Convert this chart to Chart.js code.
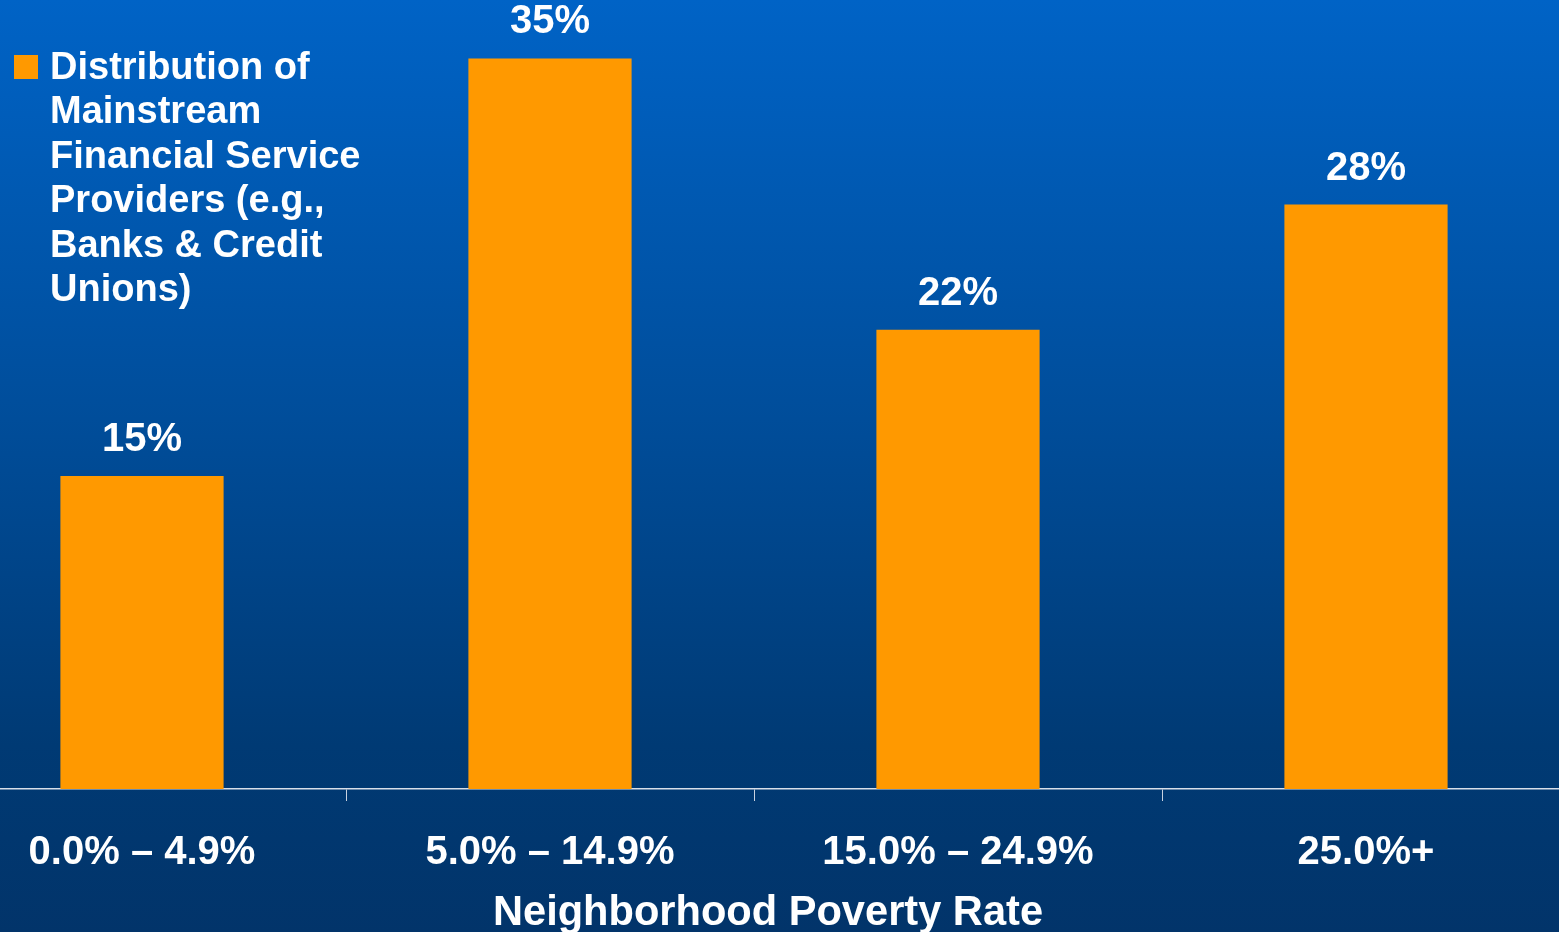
<!DOCTYPE html>
<html>
<head>
<meta charset="utf-8">
<title>Neighborhood Poverty Rate</title>
<script src="https://cdn.jsdelivr.net/npm/chart.js@4.4.1/dist/chart.umd.min.js"></script>
<style>
    html, body { margin: 0; padding: 0; width: 1559px; height: 932px; overflow: hidden; }
    body { background: linear-gradient(to bottom, #0063c6 0%, #004d9a 45%, #003a74 80%, #02346a 100%); }
    /* the plot is wider than the picture: first and last category run off the edges */
    #wrap { position: absolute; left: -62px; top: 0; width: 1632px; height: 932px; }
</style>
</head>
<body>
<div id="wrap"><canvas id="barChart"></canvas></div>
<script>
// 데이터
const categories = ['0.0% \u2013 4.9%', '5.0% \u2013 14.9%', '15.0% \u2013 24.9%', '25.0%+'];
const shareValues = [15, 35, 22, 28];
const seriesLabel = ['Distribution of', 'Mainstream', 'Financial Service', 'Providers (e.g.,', 'Banks & Credit', 'Unions)'];
const axisTitle = 'Neighborhood Poverty Rate';

const SHIFT = 62; // canvas starts 62px left of the page
const FONT = '"Liberation Sans", Arial, sans-serif';

Chart.defaults.font.family = FONT;
Chart.defaults.color = '#ffffff';

// 막대 위 값 표시
const valueLabels = {
    id: 'valueLabels',
    afterDatasetsDraw: function (chart) {
        const ctx = chart.ctx;
        const meta = chart.getDatasetMeta(0);
        ctx.save();
        ctx.fillStyle = '#ffffff';
        ctx.font = 'bold 40px ' + FONT;
        ctx.textAlign = 'center';
        ctx.textBaseline = 'alphabetic';
        meta.data.forEach(function (bar, i) {
            ctx.fillText(chart.data.datasets[0].data[i] + '%', bar.x, bar.y - 25);
        });
        ctx.restore();
    }
};

// 범례 (여러 줄) + x축 제목
const legendAndTitle = {
    id: 'legendAndTitle',
    afterDraw: function (chart) {
        const ctx = chart.ctx;
        const ds = chart.data.datasets[0];
        ctx.save();
        ctx.fillStyle = ds.backgroundColor;
        ctx.fillRect(SHIFT + 14, 55, 24, 24);
        ctx.fillStyle = '#ffffff';
        ctx.font = 'bold 38px ' + FONT;
        ctx.textAlign = 'left';
        ctx.textBaseline = 'alphabetic';
        ds.label.forEach(function (line, i) {
            ctx.fillText(line, SHIFT + 50, 79 + i * 44.4);
        });

        // axis title
        ctx.font = 'bold 41.6px ' + FONT;
        ctx.textAlign = 'center';
        ctx.fillText(axisTitle, SHIFT + 768, 925);
        ctx.restore();
    }
};

const ctx = document.getElementById('barChart').getContext('2d');
const myBarChart = new Chart(ctx, {
    type: 'bar',
    data: {
        labels: categories,
        datasets: [{
            label: seriesLabel,
            data: shareValues,
            backgroundColor: '#ff9900',
            borderWidth: 0,
            barPercentage: 0.4,
            categoryPercentage: 1.0
        }]
    },
    options: {
        responsive: true,
        maintainAspectRatio: false,
        animation: false,
        layout: { padding: { top: 0, left: 0, right: 0, bottom: 27 } },
        plugins: {
            legend: { display: false },
            tooltip: { enabled: false }
        },
        scales: {
            x: {
                grid: {
                    display: true,
                    drawOnChartArea: false,
                    drawTicks: true,
                    tickLength: 12,
                    color: '#c9d2e0',
                    lineWidth: 1
                },
                border: { display: true, color: '#d8dee8', width: 1.5 },
                ticks: {
                    color: '#ffffff',
                    padding: 28,
                    maxRotation: 0,
                    font: { size: 40, weight: 'bold', lineHeight: 1.2 }
                },
                title: { display: false }
            },
            y: {
                display: false,
                min: 0,
                max: 37.8
            }
        }
    },
    plugins: [valueLabels, legendAndTitle]
});
</script>
</body>
</html>
